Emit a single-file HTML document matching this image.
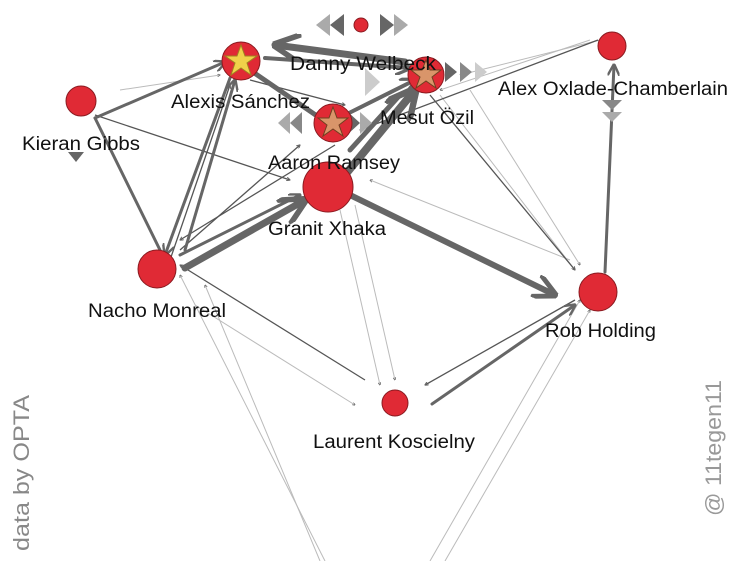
<!DOCTYPE html>
<html><head><style>
html,body{margin:0;padding:0;background:#fff;}
svg{display:block;}
text{font-family:"Liberation Sans",sans-serif;}
</style></head><body>
<svg width="730" height="561" viewBox="0 0 730 561" xmlns="http://www.w3.org/2000/svg">
<defs>
<marker id="a" viewBox="0 0 10 10" refX="9" refY="5" markerWidth="4" markerHeight="4" orient="auto"><path d="M0,0 L10,5 L0,10" fill="none" stroke="context-stroke" stroke-width="2"/></marker>
<marker id="b" viewBox="0 0 10 10" refX="9" refY="5" markerWidth="3" markerHeight="3" orient="auto"><path d="M0,0 L10,5 L0,10" fill="none" stroke="#666" stroke-width="2.5"/></marker>
</defs>
<g stroke="#bbb" stroke-width="1" fill="none" marker-end="url(#b)">
<line x1="320" y1="561" x2="205" y2="285"/>
<line x1="325" y1="561" x2="180" y2="275"/>
<line x1="430" y1="561" x2="580" y2="300"/>
<line x1="445" y1="561" x2="590" y2="310"/>
<line x1="195" y1="305" x2="355" y2="405"/>
<line x1="340" y1="210" x2="380" y2="385"/>
<line x1="355" y1="205" x2="395" y2="380"/>
<line x1="590" y1="40" x2="440" y2="90"/>
<line x1="440" y1="95" x2="575" y2="270"/>
<line x1="470" y1="90" x2="580" y2="265"/>
<line x1="120" y1="90" x2="220" y2="75"/>
<line x1="570" y1="260" x2="370" y2="180"/>
<line x1="600" y1="40" x2="460" y2="75"/>
</g>
<g stroke="#555" stroke-width="1.3" fill="none" marker-end="url(#b)">
<line x1="95" y1="115" x2="290" y2="180"/>
<line x1="365" y1="380" x2="180" y2="265"/>
<line x1="575" y1="300" x2="425" y2="385"/>
<line x1="250" y1="80" x2="345" y2="105"/>
<line x1="180" y1="250" x2="300" y2="145"/>
<line x1="335" y1="145" x2="180" y2="240"/>
<line x1="430" y1="95" x2="575" y2="270"/>
<line x1="598" y1="40" x2="360" y2="130"/>
<line x1="170" y1="260" x2="230" y2="85"/>
</g>
<g stroke="#666" fill="none" stroke-linecap="round">
<line x1="265" y1="58" x2="410" y2="68" stroke-width="4" marker-end="url(#a)"/>
<line x1="405" y1="62" x2="275" y2="45" stroke-width="7" marker-end="url(#a)"/>
<line x1="250" y1="70" x2="320" y2="118" stroke-width="5"/>
<line x1="345" y1="115" x2="415" y2="80" stroke-width="4" marker-end="url(#a)"/>
<line x1="345" y1="175" x2="415" y2="90" stroke-width="8" marker-end="url(#a)"/>
<line x1="185" y1="268" x2="305" y2="200" stroke-width="7" marker-end="url(#a)"/>
<line x1="180" y1="255" x2="300" y2="195" stroke-width="3" marker-end="url(#a)"/>
<line x1="350" y1="195" x2="555" y2="295" stroke-width="6" marker-end="url(#a)"/>
<line x1="432" y1="404" x2="575" y2="305" stroke-width="3" marker-end="url(#a)"/>
<line x1="160" y1="250" x2="95" y2="118" stroke-width="3"/>
<line x1="95" y1="118" x2="225" y2="62" stroke-width="3" marker-end="url(#a)"/>
<line x1="185" y1="250" x2="235" y2="80" stroke-width="3" marker-end="url(#a)"/>
<line x1="230" y1="78" x2="165" y2="255" stroke-width="3" marker-end="url(#a)"/>
<line x1="605" y1="272" x2="614" y2="65" stroke-width="3" marker-end="url(#a)"/>
<line x1="350" y1="150" x2="400" y2="95" stroke-width="5"/>
</g>
<g fill="#888">
<polygon points="330,14 316,25 330,36" fill="#aaa"/><polygon points="344,14 330,25 344,36" fill="#666"/>
<polygon points="380,14 394,25 380,36" fill="#666"/><polygon points="394,14 408,25 394,36" fill="#aaa"/>
<polygon points="68,152 84,152 76,162" fill="#666"/>
<polygon points="602,100 622,100 612,110"/><polygon points="602,112 622,112 612,122" fill="#aaa"/>
<polygon points="445,62 457,72 445,82" fill="#666"/><polygon points="460,62 472,72 460,82"/><polygon points="475,62 487,72 475,82" fill="#ccc"/>
<polygon points="290,112 278,123 290,134" fill="#aaa"/><polygon points="302,112 290,123 302,134"/>
<polygon points="348,112 360,123 348,134" fill="#666"/><polygon points="360,112 372,123 360,134" fill="#aaa"/>
<polygon points="365,68 380,82 365,96" fill="#ccc"/>
</g>
<g fill="#e02a35" stroke="#8a1a20" stroke-width="1">
<circle cx="361" cy="25" r="7"/>
<circle cx="241" cy="61" r="19"/>
<circle cx="426" cy="75" r="18"/>
<circle cx="333" cy="123" r="19"/>
<circle cx="328" cy="187" r="25"/>
<circle cx="81" cy="101" r="15"/>
<circle cx="612" cy="46" r="14"/>
<circle cx="157" cy="269" r="19"/>
<circle cx="598" cy="292" r="19"/>
<circle cx="395" cy="403" r="13"/>
</g>
<polygon points="241,45 245,56 257,56 247,63 251,75 241,68 231,75 235,63 225,56 237,56" fill="#f0d24a" stroke="#a08020"/>
<polygon points="426,60 430,70 441,70 432,77 436,88 426,81 416,88 420,77 411,70 422,70" fill="#d9956a" stroke="#704020"/>
<polygon points="333,107 337,118 348,118 339,125 343,136 333,129 323,136 327,125 318,118 329,118" fill="#d9956a" stroke="#704020"/>
<g font-size="19" fill="#111" lengthAdjust="spacingAndGlyphs">
<text x="290" y="70" textLength="146" lengthAdjust="spacingAndGlyphs">Danny Welbeck</text>
<text x="171" y="108" textLength="139" lengthAdjust="spacingAndGlyphs">Alexis Sánchez</text>
<text x="22" y="150" textLength="118" lengthAdjust="spacingAndGlyphs">Kieran Gibbs</text>
<text x="380" y="124" textLength="94" lengthAdjust="spacingAndGlyphs">Mesut Özil</text>
<text x="498" y="95" textLength="230" lengthAdjust="spacingAndGlyphs">Alex Oxlade-Chamberlain</text>
<text x="268" y="169" textLength="132" lengthAdjust="spacingAndGlyphs">Aaron Ramsey</text>
<text x="268" y="235" textLength="118" lengthAdjust="spacingAndGlyphs">Granit Xhaka</text>
<text x="88" y="317" textLength="138" lengthAdjust="spacingAndGlyphs">Nacho Monreal</text>
<text x="545" y="337" textLength="111" lengthAdjust="spacingAndGlyphs">Rob Holding</text>
<text x="313" y="448" textLength="162" lengthAdjust="spacingAndGlyphs">Laurent Koscielny</text>
</g>
<text transform="translate(29,551) rotate(-90)" font-size="22" fill="#888" textLength="156" lengthAdjust="spacingAndGlyphs">data by OPTA</text>
<text transform="translate(721,516) rotate(-90)" font-size="22" fill="#999" textLength="136" lengthAdjust="spacingAndGlyphs">@ 11tegen11</text>
</svg>
</body></html>
